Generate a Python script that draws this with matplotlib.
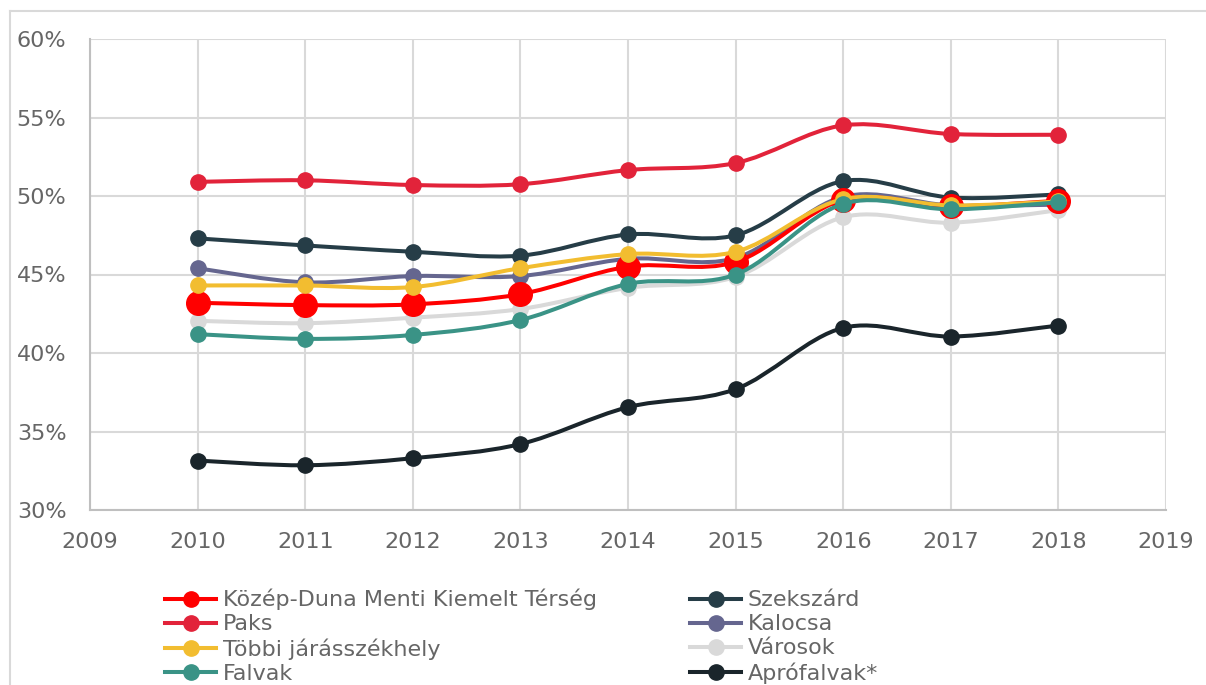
import numpy as np
import matplotlib.pyplot as plt
from matplotlib.path import Path
from matplotlib.patches import PathPatch
from matplotlib.lines import Line2D
from matplotlib.ticker import PercentFormatter

plt.rcParams['font.family'] = ['DejaVu Sans']

## Data (share, %)
years = [2010, 2011, 2012, 2013, 2014, 2015, 2016, 2017, 2018]

kozep_duna = [43.2, 43.05, 43.1, 43.75, 45.5, 45.8, 49.75, 49.35, 49.7]
szekszard = [47.3, 46.85, 46.45, 46.2, 47.55, 47.5, 50.95, 49.9, 50.1]
paks = [50.9, 51.0, 50.7, 50.75, 51.65, 52.1, 54.5, 53.95, 53.9]
kalocsa = [45.4, 44.5, 44.9, 44.9, 46.0, 46.05, 49.95, 49.4, 49.45]
tobbi = [44.3, 44.3, 44.2, 45.4, 46.3, 46.45, 49.8, 49.4, 49.65]
varosok = [42.05, 41.9, 42.25, 42.8, 44.15, 44.85, 48.65, 48.3, 49.1]
falvak = [41.2, 40.9, 41.15, 42.1, 44.4, 45.0, 49.5, 49.15, 49.6]
aprofalvak = [33.15, 32.85, 33.3, 34.2, 36.55, 37.7, 41.6, 41.05, 41.75]

# name, values, colour, marker size, zorder
series = [
    ("Paks", paks, "#E2233A", 11, 3),
    ("Szekszárd", szekszard, "#263D47", 11, 4),
    ("Kalocsa", kalocsa, "#65668F", 11, 5),
    ("Közép-Duna Menti Kiemelt Térség", kozep_duna, "#FF0000", 17, 6),
    ("Többi járásszékhely", tobbi, "#F2BD30", 11, 7),
    ("Városok", varosok, "#D9D9D9", 11, 2),
    ("Falvak", falvak, "#3A9386", 11, 8),
    ("Aprófalvak*", aprofalvak, "#1A252B", 11, 9),
]


def smooth_path(x, y):
    # Excel-like smoothed line: cubic bezier segments through the points
    x = np.asarray(x, float)
    y = np.asarray(y, float)
    n = len(x)
    verts = [(x[0], y[0])]
    codes = [Path.MOVETO]
    for i in range(n - 1):
        i0 = max(i - 1, 0)
        i3 = min(i + 2, n - 1)
        c1 = (x[i] + (x[i + 1] - x[i0]) / 6, y[i] + (y[i + 1] - y[i0]) / 6)
        c2 = (x[i + 1] - (x[i3] - x[i]) / 6, y[i + 1] - (y[i3] - y[i]) / 6)
        verts += [c1, c2, (x[i + 1], y[i + 1])]
        codes += [Path.CURVE4] * 3
    return Path(verts, codes)


fig = plt.figure(figsize=(12.06, 6.85), dpi=100)
ax = fig.add_axes([90 / 1206, 1 - 510 / 685, 1076 / 1206, 471 / 685])

for name, vals, col, ms, z in series:
    ax.add_patch(PathPatch(smooth_path(years, vals), fill=False, edgecolor=col,
                           lw=2.9, zorder=z, capstyle='round'))
    ax.plot(years, vals, 'o', color=col, ms=ms, mec=col, zorder=z + 0.5)

ax.set_xlim(2009, 2019)
ax.set_ylim(30, 60)
ax.set_xticks(range(2009, 2020))
ax.set_yticks(range(30, 61, 5))
ax.yaxis.set_major_formatter(PercentFormatter(decimals=0))
ax.grid(True, color="#D9D9D9", lw=1.5)
ax.set_axisbelow(True)
for s in ["top", "right"]:
    ax.spines[s].set_visible(False)
for s in ["left", "bottom"]:
    ax.spines[s].set_color("#BFBFBF")
    ax.spines[s].set_linewidth(1.5)
ax.tick_params(length=0, labelsize=16, labelcolor="#666666")
ax.tick_params(axis='x', pad=16)
ax.tick_params(axis='y', pad=17)

# outer chart frame (top and left edges only are inside the picture)
fx, fy = 10 / 1206, 1 - 11 / 685
fig.add_artist(Line2D([fx, 1], [fy, fy], transform=fig.transFigure,
                      color="#D9D9D9", lw=1.5))
fig.add_artist(Line2D([fx, fx], [0, fy], transform=fig.transFigure,
                      color="#D9D9D9", lw=1.5))

# legend: two columns, filled column by column
lookup = {s[0]: s for s in series}
order = ["Közép-Duna Menti Kiemelt Térség", "Paks", "Többi járásszékhely", "Falvak",
         "Szekszárd", "Kalocsa", "Városok", "Aprófalvak*"]
handles = [Line2D([], [], color=lookup[n][2], lw=2.9, marker='o', ms=11)
           for n in order]
fig.legend(handles, order, loc='upper left', bbox_to_anchor=(165 / 1206, 1 - 589 / 685),
           ncol=2, frameon=False, fontsize=16, labelcolor="#666666",
           handlelength=2.3, handletextpad=0.3, labelspacing=0.18,
           columnspacing=4.2, borderpad=0, borderaxespad=0)

fig.savefig("out.png", dpi=100)
